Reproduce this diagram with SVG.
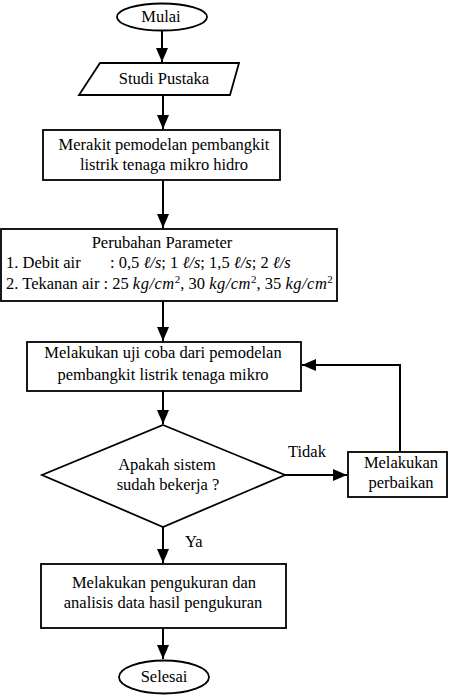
<svg xmlns="http://www.w3.org/2000/svg" width="452" height="695" viewBox="0 0 452 695">
<style>
.s{fill:#fff;stroke:#000;stroke-width:1.8}
.t{font-family:'Liberation Serif',serif;font-size:16.5px;fill:#000;text-anchor:middle}
.l{font-family:'Liberation Serif',serif;font-size:16.5px;fill:#000}
.i{font-style:italic}
.k{font-style:italic;letter-spacing:0.5px}
.c{fill:none;stroke:#000;stroke-width:2}
</style>
<defs>
<marker id="b" viewBox="0 0 14 12" refX="14" refY="6" markerWidth="14" markerHeight="12" markerUnits="userSpaceOnUse" orient="auto">
<path d="M0,0 L14,6 L0,12 Z" fill="#000"/>
</marker>
</defs>
<g id="connectors">
<path class="c" d="M162,31 V62" marker-end="url(#b)"/>
<path class="c" d="M163,95 V129" marker-end="url(#b)"/>
<path class="c" d="M163,180 V228" marker-end="url(#b)"/>
<path class="c" d="M163,301 V341" marker-end="url(#b)"/>
<path class="c" d="M163,391 V424" marker-end="url(#b)"/>
<path class="c" d="M285,475 H347" marker-end="url(#b)"/>
<path class="c" d="M400,452 V365 H302" marker-end="url(#b)"/>
<path class="c" d="M163,527 V563" marker-end="url(#b)"/>
<path class="c" d="M163,628 V659" marker-end="url(#b)"/>
<text class="l" x="288" y="457">Tidak</text>
<text class="l" x="185" y="547">Ya</text>
</g>
<g id="mulai">
<ellipse class="s" cx="162" cy="17" rx="45" ry="13.5"/>
<text class="t" x="161" y="22">Mulai</text>
</g>
<g id="studi">
<polygon class="s" points="100,63 239,63 230,95 79,95"/>
<text class="t" x="164" y="84">Studi Pustaka</text>
</g>
<g id="merakit">
<rect class="s" x="43" y="130" width="237" height="50"/>
<text class="t" x="164" y="150">Merakit pemodelan pembangkit</text>
<text class="t" x="164" y="170">listrik tenaga mikro hidro</text>
</g>
<g id="parameter">
<rect class="s" x="1" y="229" width="336" height="72"/>
<text class="t" x="162" y="248">Perubahan Parameter</text>
<text class="l" x="6" y="268">1. Debit air<tspan x="110">: 0,5 </tspan><tspan class="i">ℓ/s</tspan>; 1 <tspan class="i">ℓ/s</tspan>; 1,5 <tspan class="i">ℓ/s</tspan>; 2 <tspan class="i">ℓ/s</tspan></text>
<text class="l" x="6" y="289">2. Tekanan air : 25 <tspan class="k">kg/cm</tspan><tspan font-size="11" dy="-6">2</tspan><tspan dy="6">, 30 </tspan><tspan class="k">kg/cm</tspan><tspan font-size="11" dy="-6">2</tspan><tspan dy="6">, 35 </tspan><tspan class="k">kg/cm</tspan><tspan font-size="11" dy="-6">2</tspan></text>
</g>
<g id="ujicoba">
<rect class="s" x="27" y="342" width="274" height="49"/>
<text class="t" x="163" y="358">Melakukan uji coba dari pemodelan</text>
<text class="t" x="163" y="380">pembangkit listrik tenaga mikro</text>
</g>
<g id="keputusan">
<polygon class="s" points="163,425 285,475 163,527 42,475"/>
<text class="t" x="167" y="470">Apakah sistem</text>
<text class="t" x="168" y="490">sudah bekerja ?</text>
</g>
<g id="perbaikan">
<rect class="s" x="348" y="452" width="99" height="45"/>
<text class="t" x="401" y="468">Melakukan</text>
<text class="t" x="401" y="488">perbaikan</text>
</g>
<g id="pengukuran">
<rect class="s" x="41" y="564" width="245" height="64"/>
<text class="t" x="164" y="588">Melakukan pengukuran dan</text>
<text class="t" x="163" y="608">analisis data hasil pengukuran</text>
</g>
<g id="selesai">
<ellipse class="s" cx="164" cy="677" rx="45" ry="16.5"/>
<text class="t" x="164" y="682">Selesai</text>
</g>
</svg>
